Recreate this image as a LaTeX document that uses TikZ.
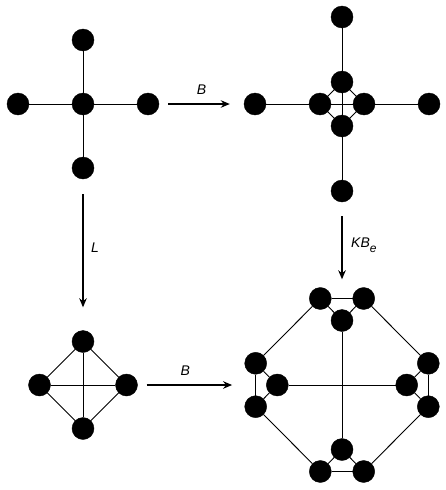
\documentclass[tikz,border=0pt]{standalone}
\usepackage{fontspec}
\setmainfont{Liberation Sans}
\usetikzlibrary{positioning,arrows.meta}
\tikzset{
    vertex/.style={
    circle,draw=black,fill=black,minimum size=22pt,inner sep=0pt
    },
    link/.style={
    line width=0.9pt,draw=black
    },
    map/.style={
    -{Stealth[length=9pt,width=7.5pt]},line width=1.7pt,draw=black
    },
}
\begin{document}
\begin{tikzpicture}[x=1pt, y=-1pt, on grid, auto, font=\fontsize{14}{16}\selectfont\itshape]
   \useasboundingbox (0,0) rectangle (446,490);
   %star
   \node[vertex] (s0) at (83,104) {};
   \node[vertex] (s0t) [above = 64pt of s0] {};
   \node[vertex] (s0b) [below = 64pt of s0] {};
   \node[vertex] (s0l) [left = 65pt of s0] {};
   \node[vertex] (s0r) [right = 65pt of s0] {};
   %blown star
   \node[vertex] (g1l) at (320,104) {};
   \node[vertex] (g1r) [right = 44pt of g1l] {};
   \node[vertex] (g1t) [above right = 22pt and 22pt of g1l] {};
   \node[vertex] (g1b) [below right = 22pt and 22pt of g1l] {};
   \node[vertex] (g2l) [left = 65pt of g1l] {};
   \node[vertex] (g2r) [right = 65pt of g1r] {};
   \node[vertex] (g2t) [above = 65pt of g1t] {};
   \node[vertex] (g2b) [below = 65pt of g1b] {};
   %line graph
   \node[vertex] (dl) at (39.5,385) {};
   \node[vertex] (dr) [right = 87pt of dl] {};
   \node[vertex] (dt) [above right = 43.5pt and 43.5pt of dl] {};
   \node[vertex] (db) [below right = 43.5pt and 43.5pt of dl] {};
   %octagon
   \node[vertex] (ol) at (277.3,385) {};
   \node[vertex] (or) [right = 129.4pt of ol] {};
   \node[vertex] (ot) [above right = 64.5pt and 64.7pt of ol] {};
   \node[vertex] (ob) [below right = 64.5pt and 64.7pt of ol] {};
   \node[vertex] (otl) [above left = 22pt and 21.7pt of ot] {};
   \node[vertex] (otr) [above right = 22pt and 21.7pt of ot] {};
   \node[vertex] (obl) [below left = 22pt and 21.7pt of ob] {};
   \node[vertex] (obr) [below right = 22pt and 21.7pt of ob] {};
   \node[vertex] (olt) [above left = 21.7pt and 21.6pt of ol] {};
   \node[vertex] (olb) [below left = 21.7pt and 21.6pt of ol] {};
   \node[vertex] (ort) [above right = 21.7pt and 21.6pt of or] {};
   \node[vertex] (orb) [below right = 21.7pt and 21.6pt of or] {};

   \path[link]
   %star
    (s0) edge (s0t)
    (s0) edge (s0b)
    (s0) edge (s0l)
    (s0) edge (s0r)
   %blown star
    (g2t) edge (g2b)
    (g2l) edge (g2r)
    (g1t) edge (g1l)
    (g1l) edge (g1b)
    (g1b) edge (g1r)
    (g1r) edge (g1t)
   %line graph
    (dt) edge (dl)
    (dl) edge (db)
    (db) edge (dr)
    (dr) edge (dt)
    (dt) edge (db)
    (dl) edge (dr)
   %octagon
    (otl) edge (otr)
    (otl) edge (ot)
    (otr) edge (ot)
    (obl) edge (obr)
    (obl) edge (ob)
    (obr) edge (ob)
    (olt) edge (olb)
    (olt) edge (ol)
    (olb) edge (ol)
    (ort) edge (orb)
    (ort) edge (or)
    (orb) edge (or)
    (otl) edge (olt)
    (otr) edge (ort)
    (olb) edge (obl)
    (orb) edge (obr)
    (ot) edge (ob)
    (ol) edge (or)
   ;

   \path[map]
    (s0r) edge [shorten <=9pt, shorten >=14pt] node [above=5pt] {B} (g2l)
    (dr) edge [shorten <=9pt, shorten >=34pt] node [above=5pt, pos=0.37] {B} (ol)
    (s0b) edge [shorten <=15pt, shorten >=23pt] node [right=4pt, pos=0.45] {L} (dt)
    (g2b) edge [shorten <=14pt, shorten >=30pt] node [right=5pt, pos=0.40] {KB\raisebox{-4.5pt}{\fontsize{12}{14}\selectfont e}} (ot)
   ;
\end{tikzpicture}
\end{document}
